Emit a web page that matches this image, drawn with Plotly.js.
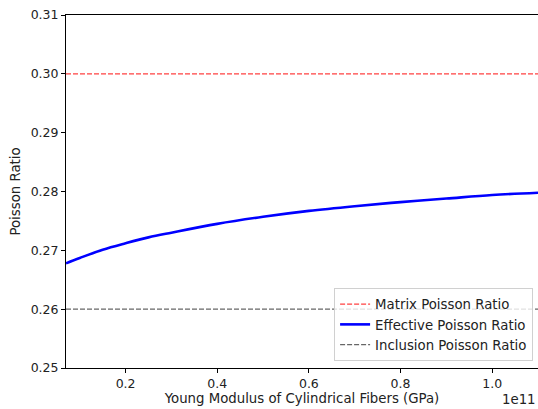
<!DOCTYPE html>
<html>
<head>
<meta charset="utf-8">
<script src="https://cdn.plot.ly/plotly-3.0.1.min.js"></script>
<style>html,body{margin:0;padding:0;background:#fff;}#chart{width:538px;height:409px;}</style>
</head>
<body>
<div id="chart"></div>
<script>
const youngModulus = [0.07e11, 0.10e11, 0.15e11, 0.20e11, 0.25e11, 0.30e11, 0.40e11, 0.50e11, 0.60e11, 0.70e11, 0.80e11, 0.90e11, 1.00e11, 1.10e11];
const effectivePoisson = [0.2678, 0.2687, 0.2701, 0.2712, 0.2722, 0.2730, 0.2745, 0.2757, 0.2767, 0.2775, 0.2782, 0.2788, 0.2794, 0.2798];
const matrixPoisson = 0.30;
const inclusionPoisson = 0.26;
const xRange = [0.07e11, 1.1e11];
const xTickVals = [0.2e11, 0.4e11, 0.6e11, 0.8e11, 1.0e11];
const xTickText = ['0.2', '0.4', '0.6', '0.8', '1.0'];
const yTickVals = [0.25, 0.26, 0.27, 0.28, 0.29, 0.30, 0.31];

const tickFont = {family: 'DejaVu Sans', size: 12.5, color: '#222'};
const textFont = {family: 'DejaVu Sans', size: 13.3, color: '#222'};

const traces = [
  {x: xRange, y: [matrixPoisson, matrixPoisson], mode: 'lines', name: 'Matrix Poisson Ratio',
   line: {color: 'rgba(255,0,0,0.75)', dash: '5px,2px', width: 1.2}},
  {x: youngModulus, y: effectivePoisson, mode: 'lines', name: 'Effective Poisson Ratio',
   line: {color: '#0000ff', width: 2.6, shape: 'spline', smoothing: 1}},
  {x: xRange, y: [inclusionPoisson, inclusionPoisson], mode: 'lines', name: 'Inclusion Poisson Ratio',
   line: {color: 'rgba(0,0,0,0.6)', dash: '5px,2px', width: 1.2}}
];

const layout = {
  width: 538, height: 409,
  margin: {l: 66, r: 0, t: 15, b: 41},
  paper_bgcolor: '#fff', plot_bgcolor: '#fff',
  font: textFont,
  showlegend: true,
  legend: {x: 0.568, y: 0.02, xanchor: 'left', yanchor: 'bottom', bgcolor: 'rgba(255,255,255,0.8)',
           bordercolor: '#d0d0d0', borderwidth: 1, font: textFont, tracegroupgap: 0},
  xaxis: {range: xRange, tickvals: xTickVals, ticktext: xTickText, showgrid: false, zeroline: false,
          showline: true, linecolor: '#000', linewidth: 1, mirror: true, ticks: 'outside', ticklen: 4,
          tickcolor: '#000', tickfont: tickFont,
          title: {text: 'Young Modulus of Cylindrical Fibers (GPa)', font: textFont, standoff: 3}},
  yaxis: {range: [0.25, 0.31], tickvals: yTickVals, tickformat: '.2f', showgrid: false, zeroline: false,
          showline: true, linecolor: '#000', linewidth: 1, mirror: true, ticks: 'outside', ticklen: 4,
          tickcolor: '#000', tickfont: tickFont,
          title: {text: 'Poisson Ratio', font: textFont, standoff: 7}},
  annotations: [{text: '1e11', xref: 'paper', yref: 'paper', x: 1, y: 0, xanchor: 'right', yanchor: 'top',
                 yshift: -22, showarrow: false, font: textFont}]
};

Plotly.newPlot('chart', traces, layout, {displayModeBar: false, staticPlot: true});
</script>
</body>
</html>
